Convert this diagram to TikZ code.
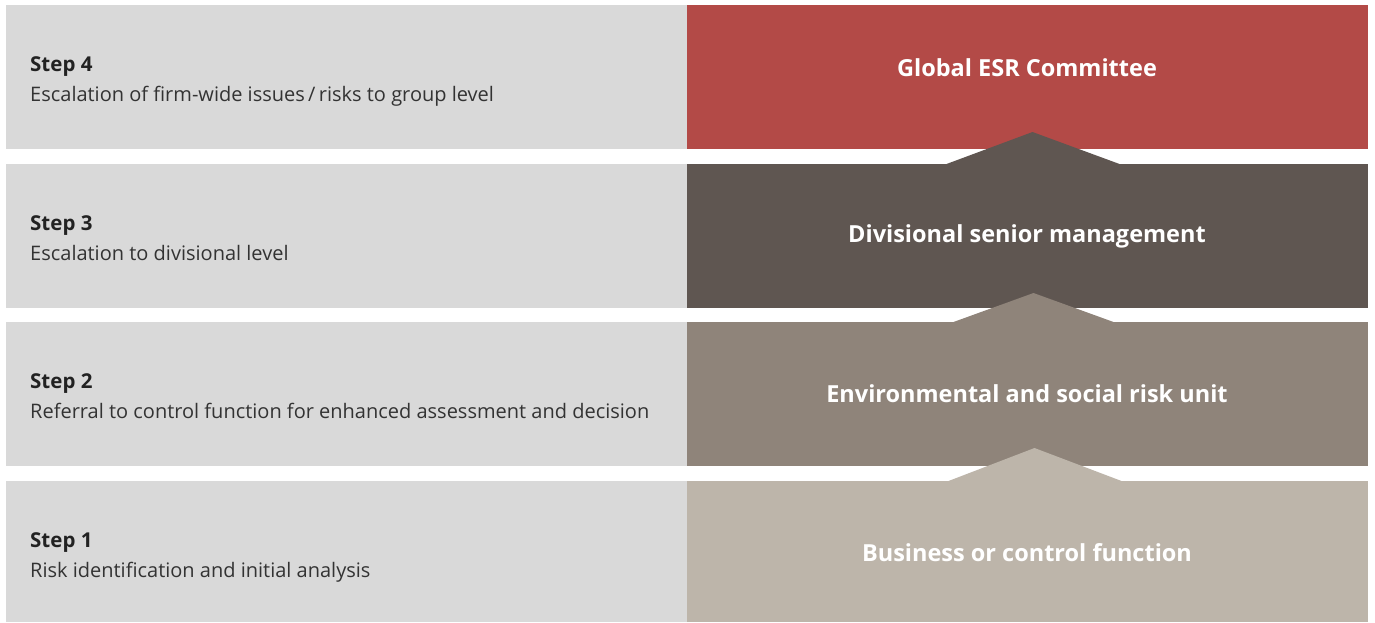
\documentclass[tikz,border=0pt]{standalone}
\usepackage{fontspec}
\setmainfont{Open Sans}
\usetikzlibrary{calc}
\definecolor{greyc}{HTML}{D9D9D9}
\definecolor{redc}{HTML}{B34A47}
\definecolor{darkc}{HTML}{5F5651}
\definecolor{taupec}{HTML}{8F847A}
\definecolor{lightc}{HTML}{BDB5AA}
\definecolor{txtc}{HTML}{333333}
\definecolor{stepc}{HTML}{222222}
\tikzset{
  band/.style={draw=none, inner sep=0pt, outer sep=0pt, anchor=north west, minimum height=144pt},
  leftband/.style={band, fill=greyc, minimum width=681pt},
  rightband/.style={band, minimum width=681pt},
  steptitle/.style={anchor=base west, inner sep=0pt, text=stepc, font=\fontsize{20.5}{24}\selectfont\bfseries},
  stepdesc/.style={anchor=base west, inner sep=0pt, text=txtc, font=\fontsize{20}{24}\selectfont},
  level/.style={inner sep=0pt, text=white, font=\fontsize{23.5}{28}\selectfont\bfseries},
}
\begin{document}
\begin{tikzpicture}[x=1pt,y=-1pt]
\useasboundingbox (0,0) rectangle (1375,622);
\fill[white] (0,0) rectangle (1375,622);
% left bands
\node[leftband] (l4) at (6,5) {};
\node[leftband] (l3) at (6,164) {};
\node[leftband] (l2) at (6,322) {};
\node[leftband, minimum height=141pt] (l1) at (6,481) {};
% right bands
\node[rightband, fill=redc] (r4) at (687,5) {};
\node[rightband, fill=darkc] (r3) at (687,164) {};
\node[rightband, fill=taupec] (r2) at (687,322) {};
\node[rightband, fill=lightc, minimum height=141pt] (r1) at (687,481) {};
% chevrons
\fill[darkc] ($(r3.north)+(-81,0)$) -- ($(r3.north)+(5,-32)$) -- ($(r3.north)+(92,0)$) -- cycle;
\fill[taupec] ($(r2.north)+(-74,0)$) -- ($(r2.north)+(6,-29)$) -- ($(r2.north)+(86,0)$) -- cycle;
\fill[lightc] ($(r1.north)+(-79,0)$) -- ($(r1.north)+(7,-33)$) -- ($(r1.north)+(94,0)$) -- cycle;
% left texts
\node[steptitle] (s4) at (30,71) {Step 4};
\node[stepdesc] (d4) at (30,101) {Escalation of firm-wide issues\,/\,risks to group level};
\node[steptitle] (s3) at (30,230) {Step 3};
\node[stepdesc] (d3) at (30,260) {Escalation to divisional level};
\node[steptitle] (s2) at (30,388) {Step 2};
\node[stepdesc] (d2) at (30,418) {Referral to control function for enhanced assessment and decision};
\node[steptitle] (s1) at (30,547) {Step 1};
\node[stepdesc] (d1) at (30,577) {Risk identification and initial analysis};
% right texts
\node[level] (t4) at (1027,68) {Global ESR Committee};
\node[level] (t3) at (1027,236) {Divisional senior management};
\node[level] (t2) at (1027,394) {Environmental and social risk unit};
\node[level] (t1) at (1027,553) {Business or control function};
\end{tikzpicture}
\end{document}
